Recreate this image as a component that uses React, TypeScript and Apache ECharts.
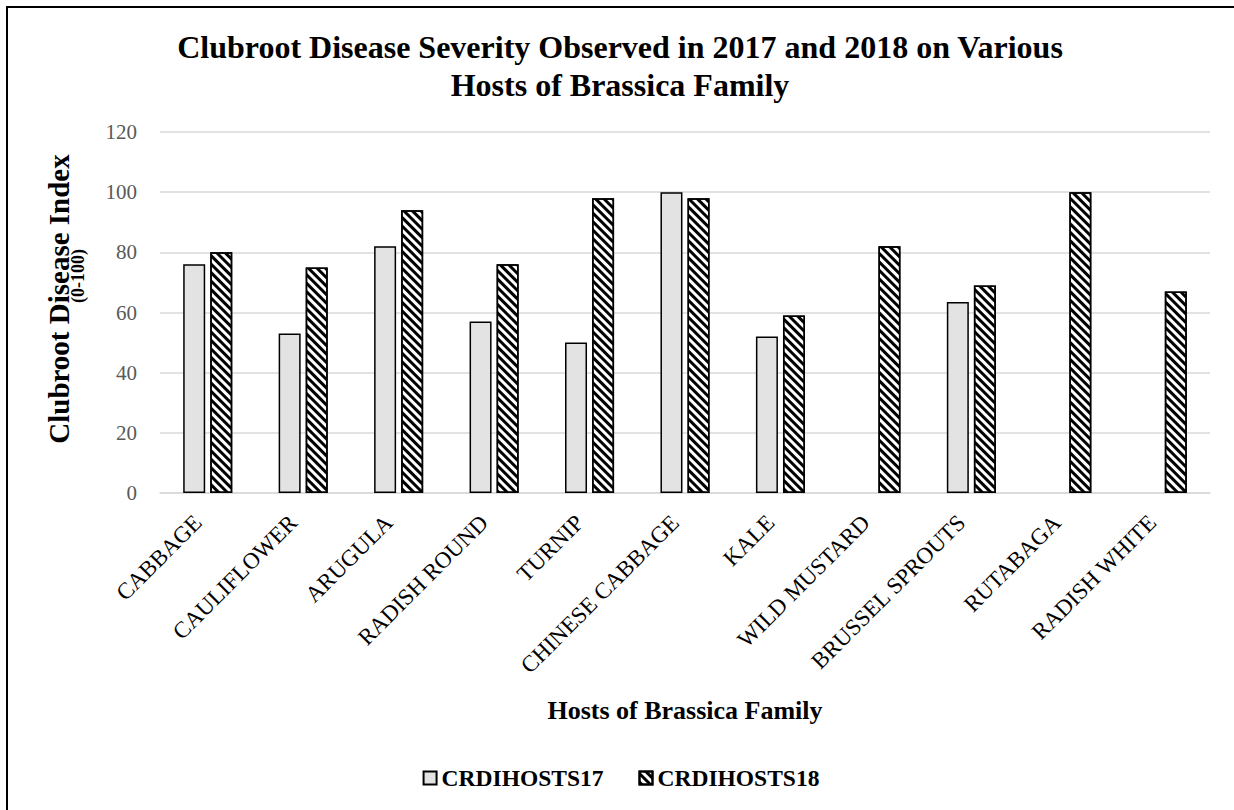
import React, { useEffect, useRef } from "react";
import * as echarts from "echarts";

const categories = [
  "CABBAGE",
  "CAULIFLOWER",
  "ARUGULA",
  "RADISH ROUND",
  "TURNIP",
  "CHINESE CABBAGE",
  "KALE",
  "WILD MUSTARD",
  "BRUSSEL SPROUTS",
  "RUTABAGA",
  "RADISH WHITE",
];
const hosts17: (number | null)[] = [76, 53, 82, 57, 50, 100, 52, null, 63.5, null, null];
const hosts18: number[] = [80, 75, 94, 76, 98, 98, 59, 82, 69, 100, 67];
const seriesNames = ["CRDIHOSTS17", "CRDIHOSTS18"];
const titleText = "Clubroot Disease Severity Observed in 2017 and 2018 on Various\nHosts of Brassica Family";
const xAxisTitle = "Hosts of Brassica Family";
const yAxisTitle = "Clubroot Disease Index";
const yAxisSub = "(0-100)";

const SERIF = "'Liberation Serif', 'Times New Roman', serif";

export default function App() {
  const ref = useRef<HTMLDivElement>(null);
  useEffect(() => {
    if (!ref.current) return;
    const chart = echarts.init(ref.current, undefined, { renderer: "svg" });
    chart.setOption({
      animation: false,
      backgroundColor: "#ffffff",
      title: {
        text: titleText,
        left: 612,
        textAlign: "center",
        top: 20,
        padding: 0,
        textStyle: {
          fontFamily: SERIF,
          fontWeight: "bold",
          fontSize: 32,
          lineHeight: 38,
          color: "#000",
        },
      },
      legend: {
        top: 753,
        left: "center",
        itemWidth: 13,
        itemHeight: 13,
        itemGap: 35,
        icon: "rect",
        data: seriesNames,
        textStyle: {
          fontFamily: SERIF,
          fontWeight: "bold",
          fontSize: 23.5,
          color: "#000",
        },
      },
      graphic: [
        {
          type: "text",
          x: 51,
          y: 291,
          rotation: Math.PI / 2,
          style: {
            text: yAxisTitle,
            fontFamily: SERIF,
            fontWeight: "bold",
            fontSize: 29,
            fill: "#000",
            align: "center",
            verticalAlign: "middle",
          },
        },
        {
          type: "text",
          x: 70,
          y: 268,
          rotation: Math.PI / 2,
          style: {
            text: yAxisSub,
            fontFamily: SERIF,
            fontWeight: "bold",
            fontSize: 18,
            fill: "#000",
            align: "center",
            verticalAlign: "middle",
          },
        },
      ],
      grid: {
        left: 152,
        top: 124,
        right: 24,
        height: 361,
        containLabel: false,
      },
      xAxis: {
        type: "category",
        data: categories,
        axisLine: { lineStyle: { color: "#d9d9d9", width: 1.5 } },
        axisTick: { show: false },
        axisLabel: {
          rotate: 45,
          interval: 0,
          margin: 16,
          padding: [0, 14, 0, 0],
          fontFamily: SERIF,
          fontSize: 23,
          color: "#000",
        },
        name: xAxisTitle,
        nameLocation: "middle",
        nameGap: 204,
        nameTextStyle: {
          fontFamily: SERIF,
          fontWeight: "bold",
          fontSize: 26,
          color: "#000",
        },
      },
      yAxis: {
        type: "value",
        min: 0,
        max: 120,
        interval: 20,
        axisLine: { show: false },
        axisTick: { show: false },
        splitLine: { lineStyle: { color: "#d9d9d9", width: 1.5 } },
        axisLabel: {
          fontFamily: SERIF,
          fontSize: 21,
          color: "#595959",
          margin: 23,
        },
      },
      series: [
        {
          name: seriesNames[0],
          type: "bar",
          data: hosts17,
          barWidth: 22,
          barGap: "23%",
          itemStyle: { color: "#e3e3e3", borderColor: "#000", borderWidth: 1.5 },
        },
        {
          name: seriesNames[1],
          type: "bar",
          data: hosts18,
          barWidth: 22,
          itemStyle: {
            color: "#ffffff",
            borderColor: "#000",
            borderWidth: 1.5,
            decal: {
              symbol: "rect",
              symbolSize: 1,
              color: "#000",
              backgroundColor: "#ffffff",
              dashArrayX: [1, 0],
              dashArrayY: [2.6, 2.6],
              rotation: Math.PI / 4,
            },
          },
        },
      ],
    });
    return () => chart.dispose();
  }, []);
  return (
    <div style={{ position: "fixed", left: 0, top: 0, width: 1234, height: 810, overflow: "hidden", background: "#fff" }}>
      <div
        style={{
          position: "absolute",
          left: 6,
          top: 6,
          borderTop: "2px solid #000",
          borderLeft: "2px solid #000",
          width: 1300,
          height: 900,
        }}
      >
        <div ref={ref} style={{ width: 1226, height: 802 }} />
      </div>
    </div>
  );
}
